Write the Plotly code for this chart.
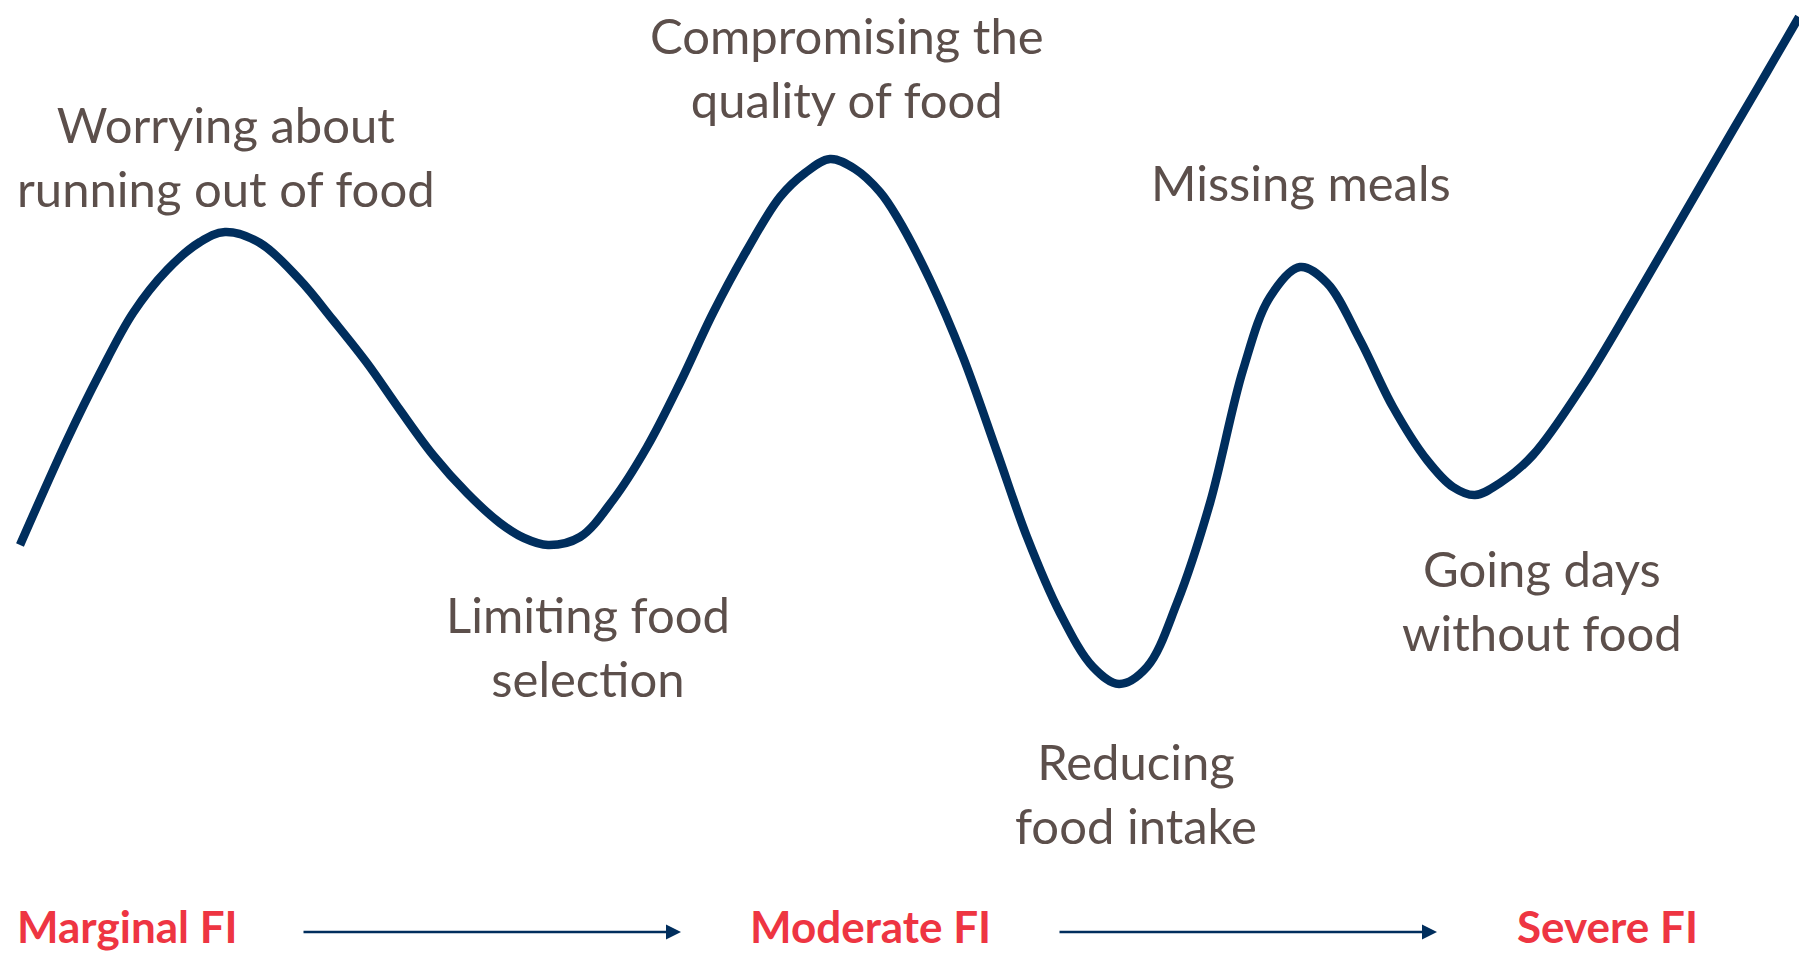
import plotly.graph_objects as go

# Journey curve: progress (x) and level (y, higher = up)
progress = [20, 67, 100, 133, 167, 200, 225, 260, 300, 333, 367, 400, 433, 467, 500,
            524, 548, 580, 613, 647, 680, 713, 747, 780, 805, 830, 855, 880, 897, 930,
            963, 997, 1027, 1060, 1093, 1119, 1147, 1177, 1210, 1243, 1270, 1300,
            1327, 1360, 1393, 1427, 1453, 1475, 1500, 1533, 1583, 1633, 1683, 1733,
            1767, 1799]
level = [408, 513, 580, 640, 683, 711, 721, 710, 673, 633, 590, 543, 498, 460, 430,
         415, 408, 416, 453, 506, 570, 640, 703, 756, 780, 794, 784, 761, 736, 673,
         596, 501, 416, 340, 286, 269, 286, 350, 450, 583, 656, 686,
         670, 613, 546, 493, 466, 458, 470, 498, 568, 651, 737, 823,
         881, 936]

# Stage labels
stage_text = ["Worrying about<br>running out of food", "Limiting food<br>selection",
              "Compromising the<br>quality of food", "Reducing<br>food intake",
              "Missing meals", "Going days<br>without food"]
stage_x = [226, 588, 847, 1136, 1301, 1542]
stage_y = [797, 307, 886, 160, 771, 353]

# Severity scale along the bottom
scale_text = ["Marginal FI", "Moderate FI", "Severe FI"]
scale_x = [127, 870, 1607]
scale_y = [27, 27, 27]
arrow_from = [302, 1058]
arrow_to = [681, 1437]
arrow_y = [21, 21]

NAVY = "#002E5D"
TEXT = "#5C4F4B"
RED = "#EE3542"

fig = go.Figure()
fig.add_trace(go.Scatter(x=progress, y=level, mode="lines",
                         line=dict(color=NAVY, width=8.5, shape="spline", smoothing=1.0),
                         hoverinfo="skip", showlegend=False))

for t, x, y in zip(stage_text, stage_x, stage_y):
    fig.add_annotation(x=x, y=y, text=t, showarrow=False, xanchor="center", yanchor="middle",
                       font=dict(family="Lato", size=49, color=TEXT), align="center")

for t, x, y in zip(scale_text, scale_x, scale_y):
    fig.add_annotation(x=x, y=y, text="<b>" + t + "</b>", showarrow=False,
                       xanchor="center", yanchor="middle",
                       font=dict(family="Lato", size=44, color=RED))

for a, b, y in zip(arrow_from, arrow_to, arrow_y):
    fig.add_annotation(x=b, y=y, ax=a, ay=y, xref="x", yref="y", axref="x", ayref="y",
                       text="", showarrow=True, arrowhead=2, arrowsize=1.2,
                       arrowwidth=2.5, arrowcolor=NAVY)

fig.update_layout(width=1799, height=953, margin=dict(l=0, r=0, t=0, b=0),
                  paper_bgcolor="white", plot_bgcolor="white",
                  xaxis=dict(range=[0, 1799], visible=False, fixedrange=True),
                  yaxis=dict(range=[0, 953], visible=False, fixedrange=True))

fig.write_html("out.html", config={"displayModeBar": False},
               post_script="document.body.style.margin='0';document.body.style.overflow='hidden';")
